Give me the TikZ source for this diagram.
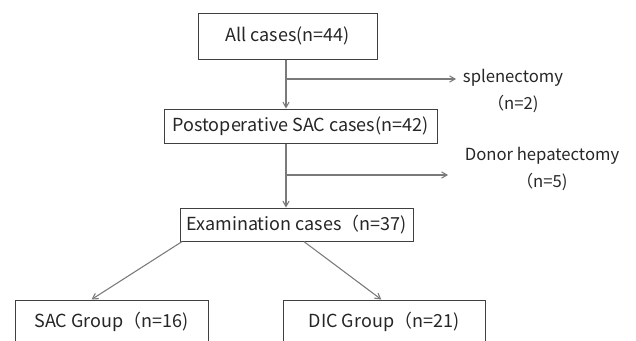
\documentclass[tikz,border=0pt]{standalone}
\usepackage[usenames,dvipsnames]{xcolor}
\usepackage{fontspec}
\newfontfamily\cjk{Noto Sans CJK SC}
\usepackage{tikz}
\usetikzlibrary{arrows}

\definecolor{LineGray}{HTML}{7A7A7A}
\definecolor{BoxGray}{HTML}{404040}
\definecolor{TextGray}{HTML}{262626}

\begin{document}
\begin{tikzpicture}[x=0.75pt, y=-0.75pt, ->, >=angle 60, line width=0.8pt, draw=LineGray, font=\cjk\fontsize{13.5}{15}\selectfont, text=TextGray, stage/.style={rectangle, draw=BoxGray, line width=0.75pt, fill=white, inner sep=0pt}, side note/.style={align=center, inner sep=0pt, font=\cjk\fontsize{12.5}{20}\selectfont}]

\useasboundingbox (0,0) rectangle (636,340);

\node[stage, minimum width=134.25pt, minimum height=34.5pt] (all) at (287.5,36) {All cases(n=44)};
\node[stage, minimum width=204.75pt, minimum height=25.5pt] (post) at (300.5,126) {Postoperative SAC cases(n=42)};
\node[stage, minimum width=174.75pt, minimum height=24.75pt] (exam) at (296.5,224.5) {Examination cases（n=37)};
\node[stage, minimum width=144.75pt, minimum height=33pt] (sac) at (111.5,322) {SAC Group（n=16)};
\node[stage, minimum width=151.5pt, minimum height=33pt] (dic) at (384,322) {DIC Group（n=21)};

\node[side note] (splen) at (513,91) {splenectomy\\（n=2)};
\node[side note] (donor) at (542,169) {Donor hepatectomy\\（n=5)};

\coordinate (b1) at (286,79);
\coordinate (e1) at (456,79);
\coordinate (b2) at (286,175);
\coordinate (e2) at (448,175);

\draw[-] (all.south -| b1) -- (b1);
\draw (b1) -- (post.north -| b1);
\draw[-] (post.south -| b2) -- (b2);
\draw (b2) -- (exam.north -| b2);

\foreach \from/\to in {b1/e1, b2/e2}
    \draw (\from) -- (\to);

\draw ([xshift=2]exam.south west) -- ([xshift=-15]sac.north);
\draw ([xshift=5.5]exam.south) -- ([xshift=-2]dic.north);
\end{tikzpicture}
\end{document}
